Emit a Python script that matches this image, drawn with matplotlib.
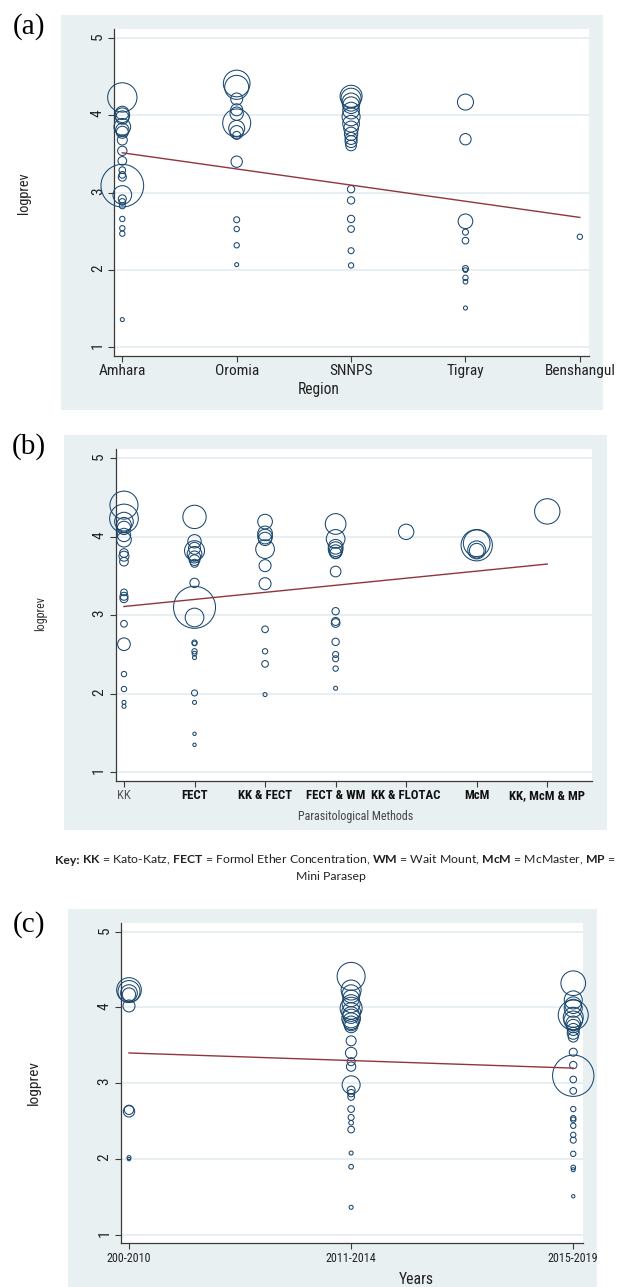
import matplotlib
matplotlib.use("Agg")
import numpy as np
import matplotlib.pyplot as plt
from matplotlib import font_manager as fm
from matplotlib.patches import Rectangle

# ---------------- data: panel (a) Region ----------------
regions = ["Amhara", "Oromia", "SNNPS", "Tigray", "Benshangul"]
amhara_logprev = [4.23, 4.03, 4.00, 3.97, 3.85, 3.81, 3.78, 3.68, 3.54, 3.41, 3.29, 3.23, 3.20,
                  3.09, 2.97, 2.92, 2.88, 2.83, 2.66, 2.54, 2.47, 1.36]
amhara_weight = [1936, 400, 484, 400, 625, 400, 324, 225, 196, 169, 100, 100, 144,
                 4096, 784, 144, 100, 81, 64, 64, 64, 36]
oromia_logprev = [4.41, 4.36, 4.21, 4.07, 4.02, 3.90, 3.83, 3.78, 3.74, 3.40, 2.65, 2.53, 2.32, 2.07]
oromia_weight = [1600, 1296, 324, 324, 400, 1764, 576, 400, 144, 289, 81, 64, 64, 36]
snnps_logprev = [4.245, 4.22, 4.17, 4.13, 4.06, 3.98, 3.89, 3.83, 3.76, 3.70, 3.66, 3.61,
                 3.045, 2.90, 2.66, 2.53, 2.25, 2.06]
snnps_weight = [1089, 900, 729, 625, 625, 729, 625, 484, 400, 324, 324, 256,
                121, 121, 121, 100, 81, 64]
tigray_logprev = [4.17, 3.69, 2.63, 2.49, 2.38, 2.02, 2.00, 1.90, 1.85, 1.51]
tigray_weight = [576, 289, 484, 81, 100, 81, 49, 64, 49, 36]
benshangul_logprev = [2.43]
benshangul_weight = [64]
region_fit = [3.515, 2.68]          # fitted logprev at first and last region

# ---------------- data: panel (b) Parasitological methods ----------------
methods = ["KK", "FECT", "KK & FECT", "FECT & WM", "KK & FLOTAC", "McM", "KK, McM & MP"]
kk_logprev = [4.40, 4.23, 4.19, 4.15, 4.11, 4.02, 3.96, 3.79, 3.75, 3.68, 3.29, 3.24, 3.21,
              2.89, 2.63, 2.25, 2.06, 1.89, 1.84]
kk_weight = [1764, 1849, 784, 484, 400, 400, 484, 169, 225, 169, 100, 144, 144,
             100, 361, 64, 64, 36, 36]
fect_logprev = [4.25, 3.94, 3.85, 3.82, 3.78, 3.74, 3.70, 3.66, 3.41, 3.10, 2.97, 2.65, 2.64,
                2.54, 2.51, 2.46, 2.01, 1.89, 1.49, 1.35]
fect_weight = [1225, 400, 324, 900, 484, 324, 256, 144, 196, 3969, 784, 64, 49,
               64, 49, 36, 81, 36, 25, 25]
kkfect_logprev = [4.19, 4.04, 4.00, 3.97, 3.84, 3.63, 3.40, 2.82, 2.54, 2.38, 1.99]
kkfect_weight = [484, 484, 484, 400, 784, 324, 324, 100, 64, 100, 36]
fectwm_logprev = [4.16, 3.97, 3.87, 3.84, 3.81, 3.79, 3.555, 3.05, 2.92, 2.90, 2.66, 2.50,
                  2.445, 2.32, 2.07]
fectwm_weight = [961, 784, 484, 484, 400, 289, 256, 121, 144, 169, 121, 81, 81, 64, 36]
kkflotac_logprev = [4.06]
kkflotac_weight = [529]
mcm_logprev = [3.915, 3.89, 3.83, 3.82]
mcm_weight = [1600, 2209, 729, 484]
kkmcmmp_logprev = [4.32]
kkmcmmp_weight = [1444]
method_fit = [3.11, 3.65]

# ---------------- data: panel (c) Years ----------------
years = ["200-2010", "2011-2014", "2015-2019"]
y2010_logprev = [4.23, 4.21, 4.19, 4.17, 4.02, 2.65, 2.63, 2.02, 2.00]
y2010_weight = [1369, 1089, 625, 400, 324, 196, 289, 36, 25]
y2014_logprev = [4.41, 4.23, 4.18, 4.12, 4.05, 3.99, 3.94, 3.90, 3.855, 3.82, 3.79, 3.755,
                 3.56, 3.40, 3.285, 3.22, 2.98, 2.91, 2.87, 2.82, 2.66, 2.55, 2.48, 2.39,
                 2.08, 1.90, 1.365]
y2014_weight = [1764, 900, 729, 625, 729, 1089, 784, 625, 784, 625, 484, 400,
                225, 289, 144, 196, 729, 144, 121, 100, 100, 81, 49, 100,
                36, 49, 36]
y2019_logprev = [4.32, 4.10, 4.03, 3.99, 3.90, 3.87, 3.83, 3.79, 3.755, 3.71, 3.66, 3.61,
                 3.41, 3.24, 3.10, 3.05, 2.90, 2.66, 2.54, 2.52, 2.44, 2.32, 2.25, 2.07,
                 1.89, 1.86, 1.51]
y2019_weight = [1369, 729, 625, 729, 2025, 900, 784, 484, 400, 324, 324, 225,
                144, 121, 3844, 100, 100, 64, 64, 64, 64, 64, 81, 64,
                49, 36, 25]
year_fit = [3.40, 3.20]

key_head = "Key:"
key_rest = (r" $\mathbf{KK}$ = Kato-Katz, $\mathbf{FECT}$ = Formol Ether Concentration, "
            r"$\mathbf{WM}$ = Wait Mount, $\mathbf{McM}$ = McMaster, $\mathbf{MP}$ =")
key_line2 = "Mini Parasep"

# ---------------- fonts ----------------
_ttf = fm.fontManager.ttflist
_names = {f.name for f in _ttf}


def pick_narrow():
    for nm in ["Liberation Sans Narrow", "Arial Narrow", "Roboto Condensed",
               "Noto Sans Condensed", "Open Sans Condensed", "DejaVu Sans Condensed"]:
        if nm in _names:
            return {"family": nm}
    for fam in ["Noto Sans", "Open Sans", "Roboto", "DejaVu Sans"]:
        for st in ["condensed", "semi-condensed"]:
            for f in _ttf:
                if f.name == fam and f.stretch == st:
                    return {"family": fam, "stretch": st}
    return {"family": "Liberation Sans"}


NARROW = pick_narrow()
KEYFONT = "Lato" if "Lato" in _names else "DejaVu Sans"
SERIF = "Liberation Serif"
plt.rcParams["mathtext.fontset"] = "custom"
plt.rcParams["mathtext.rm"] = KEYFONT
plt.rcParams["mathtext.bf"] = KEYFONT + ":bold"

# ---------------- styling ----------------
W, H = 617, 1287
BG = "#e8f0f2"
GRID = "#e6eef1"
NAVY = "#1a476f"
MAROON = "#90353b"
AXC = "#3a3a3a"
TXT = "#222222"
SIZE_K = 0.2304   # weight -> marker area (pt^2)
YT_SIZE = 11.0

fig = plt.figure(figsize=(W / 100, H / 100), dpi=100)
fig.patch.set_facecolor("white")
R = fig.canvas.get_renderer()


def text_width(s, size, **kw):
    t = fig.text(0, 0, s, size=size, **kw)
    w = t.get_window_extent(R).width
    t.remove()
    return w


def fit_size(s, target_px, **kw):
    return 10.0 * target_px / text_width(s, 10.0, **kw)


def px_rect(l, t, r, b):
    return [l / W, 1 - b / H, (r - l) / W, (b - t) / H]


def bg(l, t, r, b):
    fig.patches.append(Rectangle((l / W, 1 - b / H), (r - l) / W, (b - t) / H,
                                 transform=fig.transFigure, facecolor=BG,
                                 edgecolor="none", zorder=-10))


def fx(x):
    return x / W


def fy(y):
    return 1 - y / H


def panel(box, cats, groups, fit, xlim, xt_size):
    ax = fig.add_axes(px_rect(*box))
    ax.set_facecolor("white")
    for s in ("top", "right"):
        ax.spines[s].set_visible(False)
    for s in ("left", "bottom"):
        ax.spines[s].set_color(AXC)
        ax.spines[s].set_linewidth(0.9)
    ax.set_ylim(0.89, 5.11)
    ax.set_xlim(*xlim)
    ax.set_yticks([1, 2, 3, 4, 5])
    ax.set_xticks(np.arange(1, len(cats) + 1))
    ax.set_xticklabels(cats)
    ax.yaxis.grid(True, color=GRID, lw=1.3)
    ax.set_axisbelow(True)
    ax.tick_params(axis="y", labelrotation=90, length=4.3, width=0.8, color=AXC,
                   pad=2.5, labelsize=YT_SIZE, labelcolor=TXT)
    ax.tick_params(axis="x", length=4.3, width=0.8, color=AXC, pad=1.8,
                   labelsize=xt_size, labelcolor=TXT)
    for lab in ax.get_yticklabels() + ax.get_xticklabels():
        lab.set_family(NARROW["family"])
        if "stretch" in NARROW:
            lab.set_stretch(NARROW["stretch"])
    for i, (vals, wts) in enumerate(groups):
        xs = np.full(len(vals), i + 1.0)
        ax.scatter(xs, vals, s=np.asarray(wts) * SIZE_K, facecolors="none",
                   edgecolors=NAVY, linewidths=0.75, zorder=3, clip_on=False)
    ax.plot([1, len(cats)], fit, color=MAROON, lw=1.0, zorder=4)
    return ax


def label(x, y, s, target_w, rot=0, color=TXT, weight="normal"):
    size = fit_size(s, target_w, weight=weight, **NARROW)
    fig.text(fx(x), fy(y), s, size=size, ha="center", va="center", rotation=rot,
             color=color, weight=weight, **NARROW)


# ---------- panel (a) ----------
bg(61, 15, 603, 410)
xa = fit_size("Amhara", 47, **NARROW)
axa = panel((114.3, 29.3, 589, 356), regions,
            [(amhara_logprev, amhara_weight), (oromia_logprev, oromia_weight),
             (snnps_logprev, snnps_weight), (tigray_logprev, tigray_weight),
             (benshangul_logprev, benshangul_weight)],
            region_fit, (0.93, 5.08), xa)
label(319, 390, "Region", 42)
label(23.5, 193, "logprev", 42, rot=90)
fig.text(fx(29), fy(27), "(a)", family=SERIF, size=21, ha="center", va="center")

# ---------- panel (b) ----------
bg(64, 435, 607, 830)
xb = fit_size("FECT & WM", 59, weight="bold", **NARROW)
axb = panel((115.5, 449.3, 592, 781), methods,
            [(kk_logprev, kk_weight), (fect_logprev, fect_weight),
             (kkfect_logprev, kkfect_weight), (fectwm_logprev, fectwm_weight),
             (kkflotac_logprev, kkflotac_weight), (mcm_logprev, mcm_weight),
             (kkmcmmp_logprev, kkmcmmp_weight)],
            method_fit, (0.88, 7.634), xb)
for i, lab in enumerate(axb.get_xticklabels()):
    if i == 0:
        lab.set_color("#555555")
    else:
        lab.set_weight("bold")
        lab.set_color("#111111")
label(356, 816.7, "Parasitological Methods", 115, color="#444444")
label(40.5, 614, "logprev", 35, rot=90, color="#333333")
fig.text(fx(29), fy(447), "(b)", family=SERIF, size=21, ha="center", va="center")


# ---------- key (bold head + mathtext for the bold abbreviations) ----------
def key_width(size):
    h = text_width(key_head, size, family=KEYFONT, weight="bold")
    r = text_width(key_rest, size, family=KEYFONT)
    return h, r


h10, r10 = key_width(10.0)
ksize = 10.0 * 560.0 / (h10 + r10)
hk, rk = key_width(ksize)
x0 = 55.0
fig.text(fx(x0), fy(860), key_head, size=ksize, family=KEYFONT, weight="bold",
         ha="left", va="center", color=TXT)
fig.text(fx(x0 + hk), fy(860), key_rest, size=ksize, family=KEYFONT,
         ha="left", va="center", color=TXT)
fig.text(fx(331), fy(876.7), key_line2, family=KEYFONT, size=ksize, ha="center", va="center",
         color=TXT)

# ---------- panel (c) ----------
bg(68, 909, 597, 1300)
xc = fit_size("200-2010", 44, **NARROW)
axc = panel((121, 923.3, 582.8, 1243.3), years,
            [(y2010_logprev, y2010_weight), (y2014_logprev, y2014_weight),
             (y2019_logprev, y2019_weight)],
            year_fit, (0.964, 3.043), xc)
label(416, 1279, "Years", 35)
label(33.5, 1082.5, "logprev", 45, rot=90)
fig.text(fx(29), fy(925), "(c)", family=SERIF, size=21, ha="center", va="center")

fig.savefig("out.png", dpi=100, facecolor="white")
